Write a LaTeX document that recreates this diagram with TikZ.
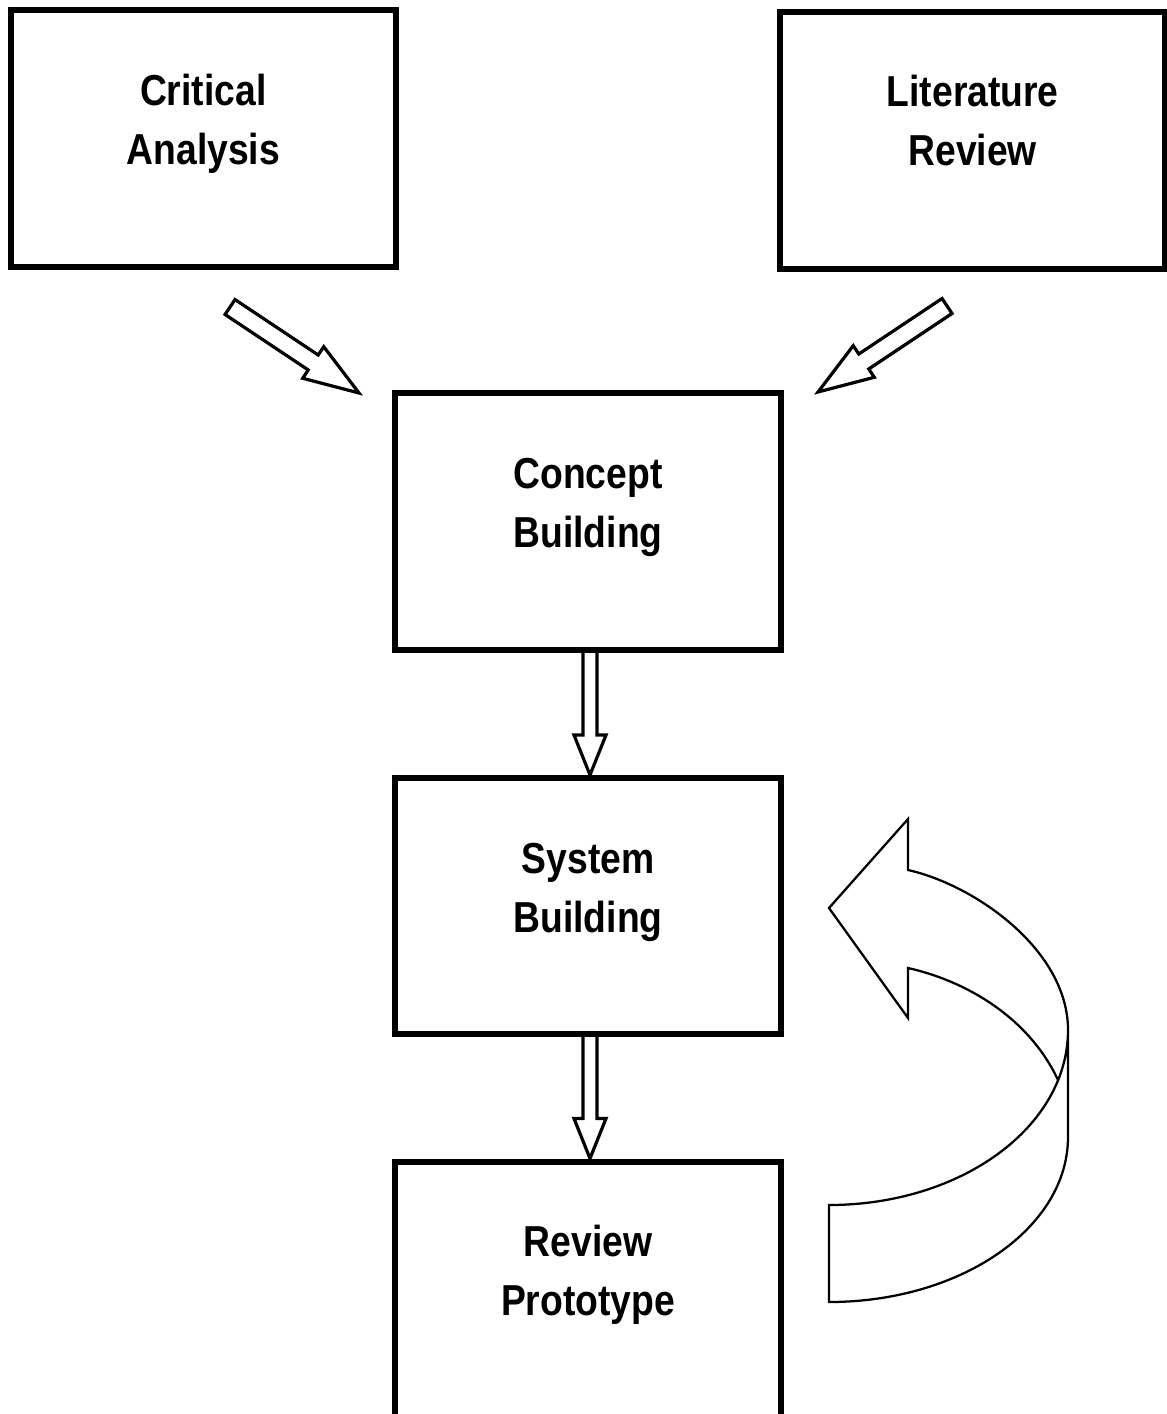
\documentclass[tikz,border=0pt]{standalone}
\usepackage{fontspec}
\newfontfamily\boxfont{Liberation Sans}[FakeStretch=0.86]
\usetikzlibrary{calc}

\tikzset{
  stage/.style={draw=black, line width=4.5pt, rectangle, inner sep=0pt, outer sep=auto, fill=white},
  stagetext/.style={anchor=base, inner sep=0pt, font=\boxfont\bfseries\fontsize{32.5}{44.25}\selectfont},
  blockarrow/.style={draw=black, fill=white, line width=2.4pt, line join=miter},
  loopband/.style={draw=black, line width=1.7pt, line join=miter},
}
\newcommand\twolines[2]{\begin{tabular}[t]{@{}c@{}}#1\\#2\end{tabular}}

\begin{document}
\begin{tikzpicture}[x=0.75pt, y=-0.75pt]
  \useasboundingbox (0,0) rectangle (1167,1414);
  \clip (0,0) rectangle (1167,1414);

  % stage boxes
  \node[stage, minimum width=289.1pt, minimum height=192.4pt] (ca) at (203.25,138.75) {};
  \node[stage, minimum width=289.1pt, minimum height=193.1pt] (lr) at (972.75,140.25) {};
  \node[stage, minimum width=289.5pt, minimum height=192.4pt] (cb) at (588,521.75) {};
  \node[stage, minimum width=289.5pt, minimum height=192pt]   (sb) at (588,906) {};
  \node[stage, minimum width=289.5pt, minimum height=197.6pt] (rp) at (588,1293.25) {};

  % labels
  \node[stagetext] (cat) at ($(ca.north)+(0,98)$) {\twolines{Critical}{Analysis}};
  \node[stagetext] (lrt) at ($(lr.north)+(0,98)$) {\twolines{Literature}{Review}};
  \node[stagetext] (cbt) at ($(cb.north)+(0,98)$) {\twolines{Concept}{Building}};
  \node[stagetext] (sbt) at ($(sb.north)+(0,98)$) {\twolines{System}{Building}};
  \node[stagetext] (rpt) at ($(rp.north)+(0,98)$) {\twolines{Review}{Prototype}};

  % diagonal block arrows feeding the concept stage
  \coordinate (catail) at (230,307);
  \coordinate (lrtail) at (947,306);
  \begin{scope}[shift={(catail)}, rotate=-33.69]
    \draw[blockarrow] (0,9) -- (100,9) -- (100,19) -- (155,0) -- (100,-19) -- (100,-9) -- (0,-9) -- cycle;
  \end{scope}
  \begin{scope}[shift={(lrtail)}, rotate=-146.31]
    \draw[blockarrow] (0,9) -- (100,9) -- (100,19) -- (155,0) -- (100,-19) -- (100,-9) -- (0,-9) -- cycle;
  \end{scope}

  % vertical block arrows between stages
  \draw[blockarrow] ($(cb.south)+(-5,0)$) -- ($(sb.north)+(-5,-40)$) -- ($(sb.north)+(-14,-40)$)
    -- ($(sb.north)+(2,0)$) -- ($(sb.north)+(18,-40)$) -- ($(sb.north)+(9,-40)$) -- ($(cb.south)+(9,0)$);
  \draw[blockarrow] ($(sb.south)+(-5,0)$) -- ($(rp.north)+(-5,-40)$) -- ($(rp.north)+(-14,-40)$)
    -- ($(rp.north)+(2,0)$) -- ($(rp.north)+(18,-40)$) -- ($(rp.north)+(9,-40)$) -- ($(sb.south)+(9,0)$);

  % curved return arrow (ribbon)
  \coordinate (bandtop) at (1058,1080);
  \draw[loopband] (bandtop) .. controls (1030,1020) and (970,982) .. (908,968)
    -- (908,1018) -- (829,908) -- (908,819) -- (908,870)
    .. controls (975,885) and (1068,950) .. (1068,1030)
    -- (1068,1137)
    .. controls (1068,1228) and (961,1302) .. (829,1302)
    -- (829,1205)
    .. controls (961,1205) and (1068,1127) .. (1068,1030);
\end{tikzpicture}
\end{document}
